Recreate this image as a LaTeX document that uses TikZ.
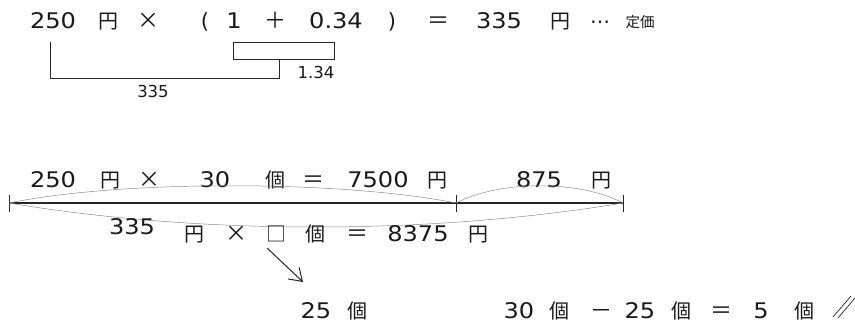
\documentclass[tikz,border=0pt]{standalone}
\usepackage{fontspec}
\usetikzlibrary{arrows.meta}
\newfontfamily\jpf{Noto Sans CJK JP}
\newfontfamily\digf[FakeStretch=1.12]{DejaVu Sans}
\newfontfamily\smf{DejaVu Sans}
\tikzset{
  jp/.style={inner sep=0pt, anchor=base, text=black!90, font=\jpf\fontsize{20}{20}\selectfont},
  op/.style={inner sep=0pt, anchor=base, text=black!90, font=\jpf\fontsize{22}{22}\selectfont},
  dg/.style={inner sep=0pt, anchor=base, text=black!90, font=\digf\fontsize{21.5}{21.5}\selectfont},
  par/.style={inner sep=0pt, anchor=base, text=black!90, font=\smf\fontsize{21}{21}\selectfont},
  sm/.style={inner sep=0pt, anchor=base, text=black!90, font=\smf\fontsize{16.5}{16.5}\selectfont},
  dots/.style={inner sep=0pt, anchor=base, text=black!90, font=\smf\fontsize{20}{20}\selectfont},
  smjp/.style={inner sep=0pt, anchor=base, text=black!90, font=\jpf\fontsize{14.5}{14.5}\selectfont},
  bracket/.style={draw=black!85, line width=0.8pt},
  mainline/.style={draw=black!85, line width=1.2pt},
  arcline/.style={draw=black!45, line width=0.5pt},
}
\begin{document}
\begin{tikzpicture}[x=1pt,y=-1pt]
\useasboundingbox[fill=white] (0,0) rectangle (855,325);
% ---- top row
\node[dg] (a1) at (53,28) {250};
\node[jp] (a2) at (108,28) {円};
\node[op] (a3) at (148,28) {×};
\node[par] (a4) at (205,28) {(};
\node[dg] (a5) at (234,28) {1};
\node[op] (a6) at (275,28) {＋};
\node[dg] (a7) at (336,28) {0.34};
\node[par] (a8) at (392,28) {)};
\node[op] (a9) at (438,28) {＝};
\node[dg] (a10) at (499,28) {335};
\node[jp] (a11) at (560,28) {円};
\node[dots] (a12) at (600,28) {⋯};
\node[smjp] (a13) at (640,27) {定価};
% brackets
\coordinate (b1) at (50,42);
\coordinate (b2) at (50,78);
\coordinate (b3) at (279,78);
\coordinate (b4) at (279,59);
\draw[bracket] (b1) -- (b2) -- (b3) -- (b4);
\coordinate (bx1) at (233,42);
\coordinate (bx2) at (334,59);
\draw[bracket] (bx1) rectangle (bx2);
\node[sm] (l1) at (316,78) {1.34};
\node[sm] (l2) at (153,97) {335};
% ---- row 2
\node[dg] (c1) at (53,187) {250};
\node[jp] (c2) at (110,187) {円};
\node[op] (c3) at (149,187) {×};
\node[dg] (c4) at (215,187) {30};
\node[jp] (c5) at (275,187) {個};
\node[op] (c6) at (313,187) {＝};
\node[dg] (c7) at (378,187) {7500};
\node[jp] (c8) at (437,187) {円};
\node[dg] (c9) at (539,187) {875};
\node[jp] (c10) at (601,187) {円};
% main line
\coordinate (p0) at (9,203);
\coordinate (p1) at (456,203);
\coordinate (p2) at (623,203);
\draw[mainline] (p0) -- (p2);
\draw[mainline, line width=1pt] (9,195) -- (9,212);
\draw[mainline, line width=1pt] (456,195) -- (456,212);
\draw[mainline, line width=1pt] (623,195) -- (623,212);
\draw[arcline] (p0) .. controls (120,180) and (340,180) .. (p1);
\draw[arcline] (p1) .. controls (500,180) and (580,180) .. (p2);
\draw[arcline] (p0) .. controls (200,235) and (430,235) .. (p2);
% ---- row 3
\node[dg] (d1) at (132,234) {335};
\node[jp] (d2) at (194,241) {円};
\node[op] (d3) at (236,241) {×};
\node[jp] (d4) at (276,241) {□};
\node[jp] (d5) at (315,241) {個};
\node[op] (d6) at (357,241) {＝};
\node[dg] (d7) at (418,241) {8375};
\node[jp] (d8) at (478,241) {円};
% arrow
\coordinate (ar1) at (267,248);
\coordinate (ar2) at (303,282);
\draw[draw=black!85, line width=1pt, -{Straight Barb[length=12pt,width=16pt]}] (ar1) -- (ar2);
% ---- row 4
\node[dg] (e1) at (316,318) {25};
\node[jp] (e2) at (357,318) {個};
\node[dg] (f1) at (519,318) {30};
\node[jp] (f2) at (559,318) {個};
\node[op] (f3) at (601,318) {－};
\node[dg] (f4) at (640,318) {25};
\node[jp] (f5) at (681,318) {個};
\node[op] (f6) at (721,318) {＝};
\node[dg] (f7) at (761,318) {5};
\node[jp] (f8) at (804,318) {個};
\draw[draw=black!85, line width=0.7pt] (833,317) -- (851,296);
\draw[draw=black!85, line width=0.7pt] (838,318) -- (855,298);
\end{tikzpicture}
\end{document}
